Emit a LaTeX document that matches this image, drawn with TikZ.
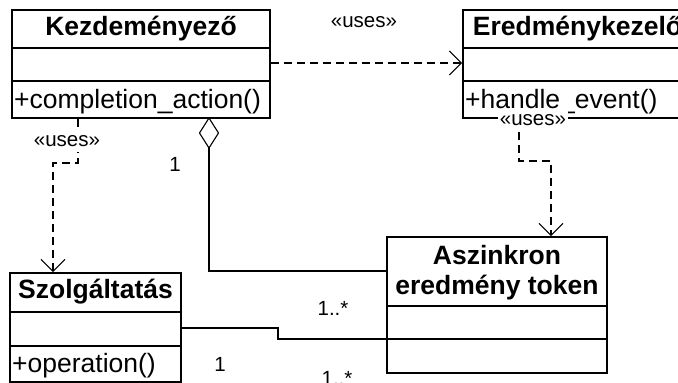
\documentclass[tikz,border=0pt]{standalone}
\usepackage{fontspec}
\setmainfont{Liberation Sans}
\usetikzlibrary{arrows.meta}

\tikzset{
  classbox/.style={draw, line width=1.8pt, rectangle, inner sep=0pt},
  sepline/.style={line width=1.8pt},
  titletext/.style={anchor=base, inner sep=0pt, font=\fontsize{26.5}{30}\selectfont\bfseries},
  membertext/.style={anchor=base west, inner sep=0pt, font=\fontsize{26.5}{30}\selectfont},
  smalltext/.style={inner sep=1.5pt, font=\fontsize{20.5}{24}\selectfont},
  stereo/.style={smalltext, fill=white, minimum height=22pt},
  dep/.style={line width=1.1pt, dash pattern=on 8pt off 5pt,
    -{Straight Barb[length=12pt,width=24pt,line width=1.1pt]}},
  assoc/.style={line width=1.1pt},
}

\begin{document}
\begin{tikzpicture}[x=1pt,y=-1pt]
\clip (0,0) rectangle (678,383);
\fill[white] (0,0) rectangle (678,383);

% class boxes
\node[classbox, minimum width=258pt, minimum height=108pt] (kez) at (141,64) {};
\node[classbox, minimum width=229pt, minimum height=108pt] (ere) at (577.5,64) {};
\node[classbox, minimum width=171pt, minimum height=109pt] (szo) at (95.5,327.5) {};
\node[classbox, minimum width=220pt, minimum height=136pt] (asz) at (497,305) {};

% compartment separators
\draw[sepline] (kez.west |- 0,48) -- (kez.east |- 0,48);
\draw[sepline] (kez.west |- 0,81) -- (kez.east |- 0,81);
\draw[sepline] (ere.west |- 0,48) -- (ere.east |- 0,48);
\draw[sepline] (ere.west |- 0,81) -- (ere.east |- 0,81);
\draw[sepline] (szo.west |- 0,312) -- (szo.east |- 0,312);
\draw[sepline] (szo.west |- 0,346) -- (szo.east |- 0,346);
\draw[sepline] (asz.west |- 0,306) -- (asz.east |- 0,306);
\draw[sepline] (asz.west |- 0,339) -- (asz.east |- 0,339);

% class names and operations
\node[titletext] (kezname) at (141,35) {Kezdeményező};
\node[membertext] (kezop) at (14,108) {+completion\_action()};
\node[titletext] (erename) at (577.5,35) {Eredménykezelő};
\node[membertext] (ereop) at (465,108) {+handle\_event()};
\node[titletext] (szoname) at (95.5,298) {Szolgáltatás};
\node[membertext] (szoop) at (12,372) {+operation()};
\node[titletext] (aszname1) at (497,264) {Aszinkron};
\node[titletext] (aszname2) at (497,294) {eredmény token};

% dependency: Kezdeményező -> Eredménykezelő
\draw[dep] (kez.east |- 0,63) -- (ere.west |- 0,63);
\node[smalltext] (uses1) at (364,22) {«uses»};

% dependency: Eredménykezelő -> Aszinkron eredmény token
\coordinate (e1) at (519,161);
\coordinate (e2) at (551,161);
\draw[dep] (ere.south -| e1) -- (e1) -- (e2) -- (asz.north -| e2);
\node[stereo] (uses2) at (533,120) {«uses»};

% dependency: Kezdeményező -> Szolgáltatás
\coordinate (k1) at (78,163);
\coordinate (k2) at (53,163);
\draw[dep] (kez.south -| k1) -- (k1) -- (k2) -- (szo.north -| k2);
\node[stereo] (uses3) at (67,141) {«uses»};

% aggregation: Kezdeményező <>-- Aszinkron eredmény token
\coordinate (dtop) at (209,118);
\coordinate (dleft) at (199.5,133);
\coordinate (dbot) at (209,148);
\coordinate (dright) at (218.5,133);
\draw[assoc, fill=white] (dtop) -- (dleft) -- (dbot) -- (dright) -- cycle;
\coordinate (a1) at (209,271);
\draw[assoc] (dbot) -- (a1) -- (asz.west |- a1);
\node[smalltext] (m1) at (175,164) {1};
\node[smalltext] (m2) at (333,308) {1..*};

% association: Szolgáltatás -- Aszinkron eredmény token
\coordinate (s1) at (278,328);
\coordinate (s2) at (278,339);
\draw[assoc] (szo.east |- s1) -- (s1) -- (s2) -- (asz.west |- s2);
\node[smalltext] (m3) at (220,364) {1};
\node[smalltext] (m4) at (337,378) {1..*};
\end{tikzpicture}
\end{document}
